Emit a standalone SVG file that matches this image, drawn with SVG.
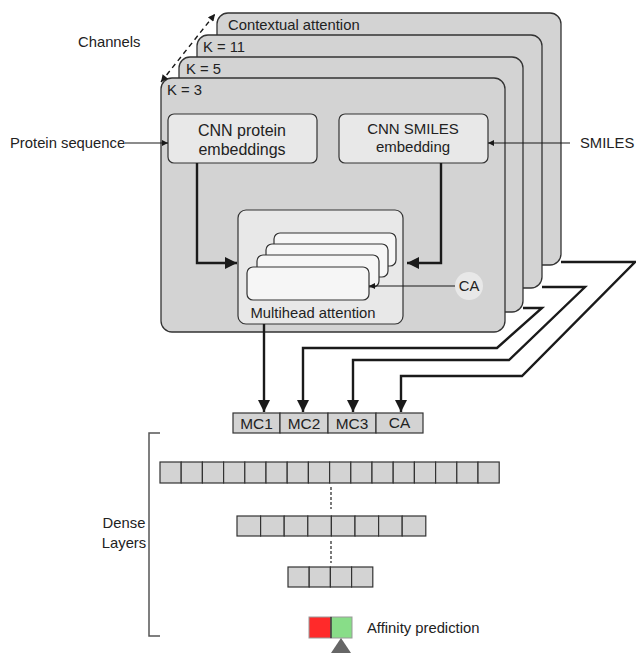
<svg xmlns="http://www.w3.org/2000/svg" width="636" height="654" viewBox="0 0 636 654">
<defs>
<style>
text{font-family:"Liberation Sans",Arial,sans-serif;fill:#222;font-size:14.8px}
.panel{fill:#d3d3d3;stroke:#333;stroke-width:1.3}
.box{fill:#e8e8e8;stroke:#333;stroke-width:1.2}
.head{fill:#f6f6f6;stroke:#333;stroke-width:1.2}
.cell{fill:#d3d3d3;stroke:#333;stroke-width:1.2}
.thick{fill:none;stroke:#1a1a1a;stroke-width:2.4}
.thin{fill:none;stroke:#1a1a1a;stroke-width:1.2}
.c{text-anchor:middle}
.mc{font-size:15.4px}
</style>
<marker id="ah" viewBox="0 0 10 10" refX="10" refY="5" markerWidth="6" markerHeight="6" markerUnits="userSpaceOnUse" orient="auto"><path d="M0,0 L10,5 L0,10 z" fill="#1a1a1a"/></marker>
<marker id="ahs" viewBox="0 0 10 10" refX="10" refY="5" markerWidth="10" markerHeight="7" markerUnits="userSpaceOnUse" orient="auto-start-reverse"><path d="M0,0 L10,5 L0,10 z" fill="#1a1a1a"/></marker>
<marker id="ahb" viewBox="0 0 10 10" refX="10" refY="5" markerWidth="6" markerHeight="5" orient="auto"><path d="M0,0 L10,5 L0,10 z" fill="#1a1a1a"/></marker>
</defs>

<g id="panel-ca"><rect class="panel" x="217" y="13" width="344" height="252" rx="11"/><text x="228" y="30">Contextual attention</text></g>
<g id="panel-k11"><rect class="panel" x="197" y="35" width="345" height="253" rx="11"/><text x="203" y="52">K = 11</text></g>
<g id="panel-k5"><rect class="panel" x="179" y="57" width="344" height="255" rx="11"/><text x="186" y="74">K = 5</text></g>
<g id="panel-k3"><rect class="panel" x="161" y="78" width="344" height="254" rx="11"/><text x="167" y="95">K = 3</text></g>

<g id="cnn-protein"><rect class="box" x="168" y="114" width="149" height="49" rx="6"/><text class="c" x="242" y="136" style="font-size:16px">CNN protein</text><text class="c" x="242" y="155" style="font-size:16px">embeddings</text></g>
<g id="cnn-smiles"><rect class="box" x="339" y="114" width="149" height="49" rx="6"/><text class="c" x="413" y="134" style="font-size:15px">CNN SMILES</text><text class="c" x="413" y="152" style="font-size:15px">embedding</text></g>

<g id="multihead"><rect class="box" x="238" y="210" width="165" height="114" rx="8"/>
<rect class="head" x="274" y="233" width="122" height="33" rx="6"/>
<rect class="head" x="266" y="244" width="122" height="33" rx="6"/>
<rect class="head" x="257" y="255" width="122" height="32" rx="6"/>
<rect class="head" x="247" y="267" width="122" height="33" rx="6"/>
<text class="c" x="313" y="318">Multihead attention</text></g>

<g id="ca-circle"><circle cx="469" cy="286" r="14" fill="#e8e8e8"/><text class="c" x="469" y="291">CA</text></g>

<g id="labels">
<text x="78" y="47">Channels</text>
<text x="10" y="148">Protein sequence</text>
<text x="580" y="148">SMILES</text>
<text class="c" x="124" y="528">Dense</text>
<text class="c" x="124" y="548">Layers</text>
<text x="367" y="633">Affinity prediction</text>
</g>

<g id="concat">
<rect class="cell" x="233" y="413" width="47" height="20"/>
<rect class="cell" x="280" y="413" width="48" height="20"/>
<rect class="cell" x="328" y="413" width="48" height="20"/>
<rect class="cell" x="376" y="413" width="47" height="20"/>
<text class="c mc" x="256.5" y="429">MC1</text>
<text class="c mc" x="304" y="429">MC2</text>
<text class="c mc" x="352" y="429">MC3</text>
<text class="c mc" x="399.5" y="428">CA</text>
</g>

<g id="dense1">
<rect class="cell" x="160" y="462" width="21.2" height="21"/><rect class="cell" x="181.2" y="462" width="21.2" height="21"/><rect class="cell" x="202.4" y="462" width="21.2" height="21"/><rect class="cell" x="223.6" y="462" width="21.2" height="21"/><rect class="cell" x="244.8" y="462" width="21.2" height="21"/><rect class="cell" x="266" y="462" width="21.2" height="21"/><rect class="cell" x="287.2" y="462" width="21.2" height="21"/><rect class="cell" x="308.4" y="462" width="21.2" height="21"/><rect class="cell" x="329.6" y="462" width="21.2" height="21"/><rect class="cell" x="350.8" y="462" width="21.2" height="21"/><rect class="cell" x="372" y="462" width="21.2" height="21"/><rect class="cell" x="393.2" y="462" width="21.2" height="21"/><rect class="cell" x="414.4" y="462" width="21.2" height="21"/><rect class="cell" x="435.6" y="462" width="21.2" height="21"/><rect class="cell" x="456.8" y="462" width="21.2" height="21"/><rect class="cell" x="478" y="462" width="21.2" height="21"/>
</g>
<g id="dense2">
<rect class="cell" x="237" y="516" width="23.6" height="20"/><rect class="cell" x="260.6" y="516" width="23.6" height="20"/><rect class="cell" x="284.2" y="516" width="23.6" height="20"/><rect class="cell" x="307.8" y="516" width="23.6" height="20"/><rect class="cell" x="331.4" y="516" width="23.6" height="20"/><rect class="cell" x="355" y="516" width="23.6" height="20"/><rect class="cell" x="378.6" y="516" width="23.6" height="20"/><rect class="cell" x="402.2" y="516" width="23.6" height="20"/>
</g>
<g id="dense3">
<rect class="cell" x="288" y="567" width="21.2" height="20"/><rect class="cell" x="309.2" y="567" width="21.2" height="20"/><rect class="cell" x="330.4" y="567" width="21.2" height="20"/><rect class="cell" x="351.6" y="567" width="21.2" height="20"/>
</g>
<g id="affinity">
<rect x="309" y="617" width="22" height="21" fill="#ff2a2a" stroke="#999" stroke-width="1"/>
<rect x="331" y="617" width="21" height="21" fill="#88dd88" stroke="#999" stroke-width="1"/>
<line x1="331" y1="617" x2="331" y2="638" stroke="#222" stroke-width="1.2"/>
<polygon points="341,638 351,653 331,653" fill="#666"/>
</g>

<g id="connectors">
<line x1="161" y1="82" x2="215" y2="14" stroke="#1a1a1a" stroke-width="1.4" stroke-dasharray="5,4" marker-start="url(#ahs)" marker-end="url(#ahs)"/>
<line class="thin" x1="125" y1="143" x2="168" y2="143" marker-end="url(#ah)"/>
<line class="thin" x1="570" y1="143" x2="488" y2="143" marker-end="url(#ah)"/>
<polyline class="thick" points="197,163 197,263 237,263" marker-end="url(#ahb)"/>
<polyline class="thick" points="441,163 441,263 407,263" marker-end="url(#ahb)"/>
<line class="thin" x1="455" y1="286" x2="369" y2="286" marker-end="url(#ah)"/>
<line class="thick" x1="264" y1="324" x2="264" y2="412" marker-end="url(#ahb)"/>
<polyline class="thick" points="523,308 542,308 497,348 303,348 303,412" marker-end="url(#ahb)"/>
<polyline class="thick" points="542,287 585,287 509,360 353,360 353,412" marker-end="url(#ahb)"/>
<polyline class="thick" points="561,262 635,262 522,376 401,376 401,412" marker-end="url(#ahb)"/>
<line x1="331" y1="487" x2="331" y2="509" stroke="#222" stroke-width="1.2" stroke-dasharray="3,2"/>
<line x1="331" y1="541" x2="331" y2="563" stroke="#222" stroke-width="1.2" stroke-dasharray="3,2"/>
<polyline points="160,433 149,433 149,636 160,636" fill="none" stroke="#555" stroke-width="1.5"/>
</g>
</svg>
